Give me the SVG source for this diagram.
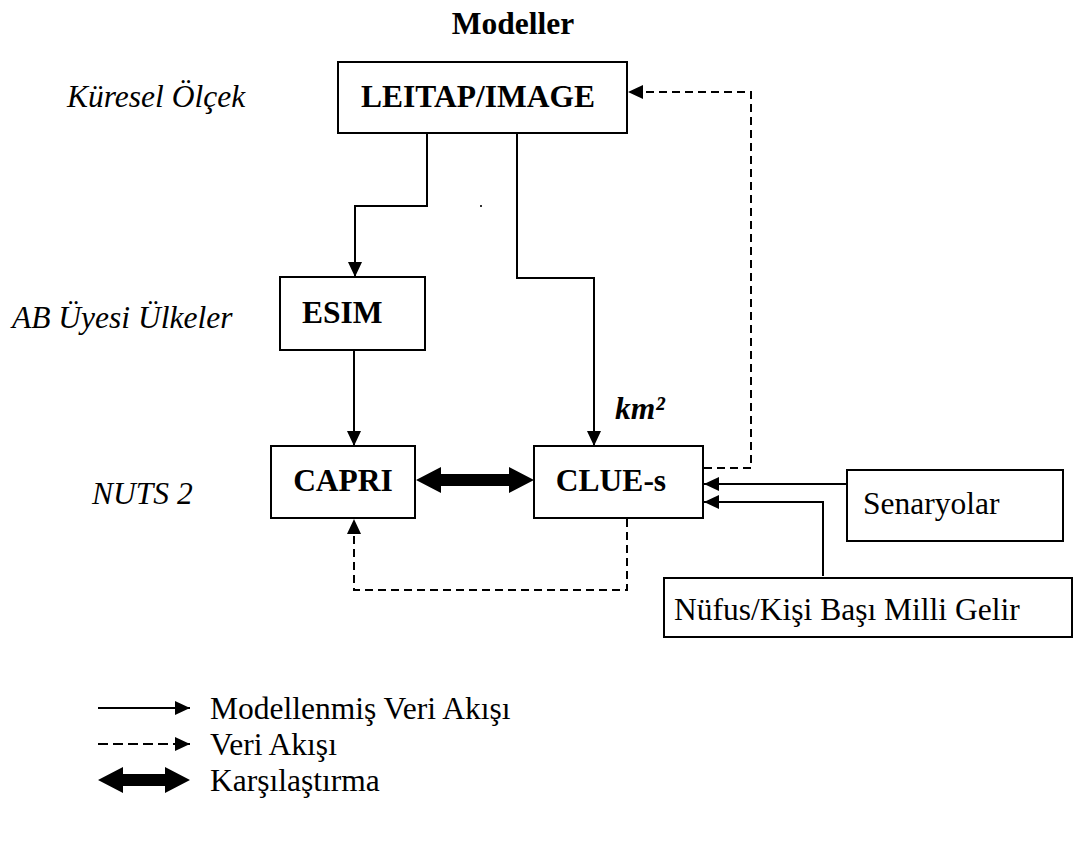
<svg xmlns="http://www.w3.org/2000/svg" width="1077" height="844" viewBox="0 0 1077 844">
<defs>
<style>
.box{fill:#fff;stroke:#000;stroke-width:2}
.ln{fill:none;stroke:#000;stroke-width:2}
.dash{fill:none;stroke:#000;stroke-width:2;stroke-dasharray:8 5}
.b{font-family:"Liberation Serif","Times New Roman",serif;font-weight:bold;font-size:31.5px;fill:#000}
.i{font-family:"Liberation Serif","Times New Roman",serif;font-style:italic;font-size:31.5px;fill:#000}
.r{font-family:"Liberation Serif","Times New Roman",serif;font-size:31.5px;fill:#000}
.bi{font-family:"Liberation Serif","Times New Roman",serif;font-weight:bold;font-style:italic;font-size:31.5px;fill:#000}
</style>
<marker id="ah" viewBox="0 0 15 14" refX="15" refY="7" markerWidth="15" markerHeight="14" markerUnits="userSpaceOnUse" orient="auto">
<path d="M0,0 L15,7 L0,14 Z" fill="#000"/>
</marker>
</defs>
<rect width="1077" height="844" fill="#fff"/>
<text class="b" x="513" y="34" text-anchor="middle">Modeller</text>
<text class="i" x="67" y="107">Küresel Ölçek</text>
<text class="i" x="12" y="328">AB Üyesi Ülkeler</text>
<text class="i" x="92" y="504">NUTS 2</text>
<g id="connectors">
<path class="ln" d="M427,134 V206 H355 V277" marker-end="url(#ah)"/>
<path class="ln" d="M517,134 V278 H594 V446" marker-end="url(#ah)"/>
<path class="ln" d="M354,351 V446" marker-end="url(#ah)"/>
<path class="ln" d="M847,484 H704" marker-end="url(#ah)"/>
<path class="ln" d="M823,576 V502 H704" marker-end="url(#ah)"/>
<path class="dash" d="M704,468 H751 V92 H628" marker-end="url(#ah)"/>
<path class="dash" d="M627,519 V590 H354 V519" marker-end="url(#ah)"/>
<path d="M416,480 L441,467 L441,474 L509,474 L509,467 L534,480 L509,493 L509,486 L441,486 L441,493 Z" fill="#000"/>
<rect x="480" y="205" width="2" height="2" fill="#333"/>
</g>
<g id="leitap">
<rect class="box" x="338" y="62" width="289" height="71"/>
<text class="b" x="478" y="107" text-anchor="middle">LEITAP/IMAGE</text>
</g>
<g id="esim">
<rect class="box" x="280" y="277" width="145" height="73"/>
<text class="b" x="302" y="323">ESIM</text>
</g>
<g id="capri">
<rect class="box" x="271" y="446" width="144" height="72"/>
<text class="b" x="343" y="491" text-anchor="middle">CAPRI</text>
</g>
<g id="clues">
<rect class="box" x="534" y="446" width="169" height="72"/>
<text class="b" x="611" y="491" text-anchor="middle">CLUE-s</text>
</g>
<text class="bi" x="615" y="419">km²</text>
<g id="senaryolar">
<rect class="box" x="847" y="470" width="216" height="71"/>
<text class="r" x="863" y="514">Senaryolar</text>
</g>
<g id="nufus">
<rect class="box" x="664" y="578" width="408" height="59"/>
<text class="r" x="674" y="620">Nüfus/Kişi Başı Milli Gelir</text>
</g>
<g id="legend">
<path class="ln" d="M98,708 H190" marker-end="url(#ah)"/>
<path class="dash" d="M98,744 H190" style="stroke-dasharray:10 5" marker-end="url(#ah)"/>
<path d="M98,780 L123,767 L123,774 L165,774 L165,767 L190,780 L165,793 L165,786 L123,786 L123,793 Z" fill="#000"/>
<text class="r" x="210" y="719">Modellenmiş Veri Akışı</text>
<text class="r" x="210" y="755">Veri Akışı</text>
<text class="r" x="210" y="791">Karşılaştırma</text>
</g>
</svg>
